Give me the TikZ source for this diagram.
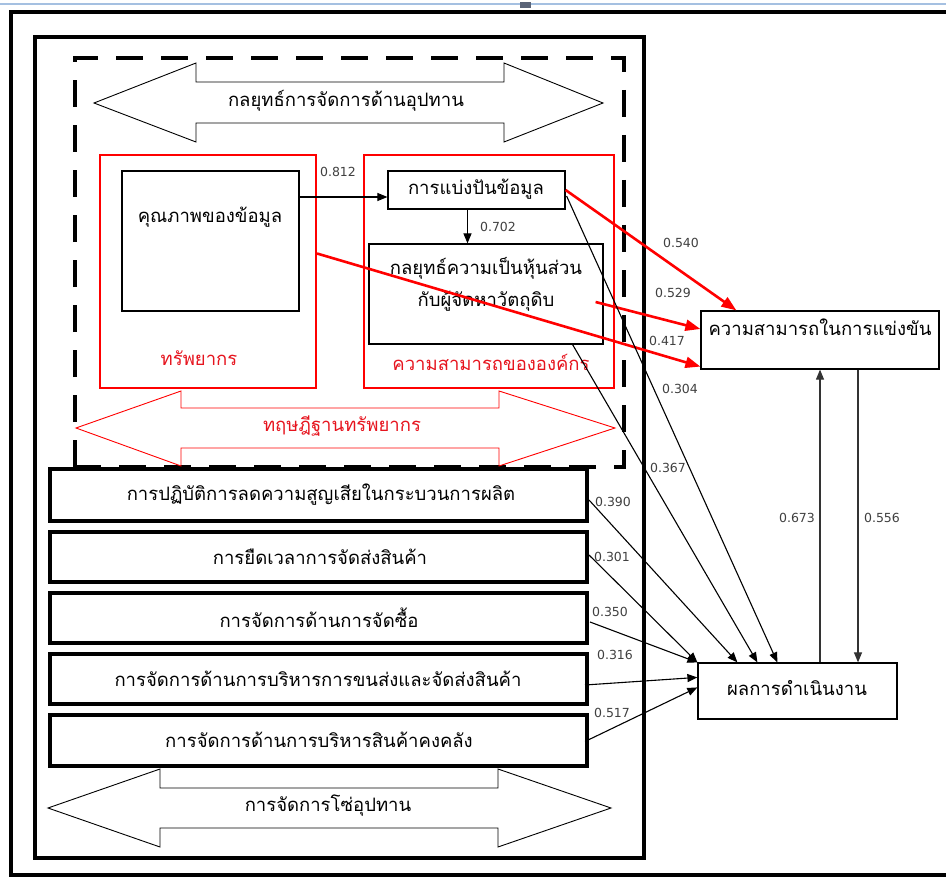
\documentclass[tikz,border=0pt]{standalone}
\usepackage{fontspec}
\newfontfamily\thai[Script=Thai]{Loma}
\newfontfamily\numfont{DejaVu Sans}
\usetikzlibrary{arrows.meta,calc,fit}

\definecolor{edgeblue}{RGB}{165,192,225}
\definecolor{edgemark}{RGB}{90,100,120}
\definecolor{labelred}{RGB}{230,20,30}

\tikzset{
  frame/.style={draw=black, line width=3.2pt},
  dashframe/.style={draw=black, line width=4.5pt, dash pattern=on 27pt off 18pt},
  fatarrow/.style={draw=black, line width=0.9pt, line join=miter},
  redfatarrow/.style={draw=red, line width=0.9pt, line join=miter},
  redbox/.style={draw=red, line width=2pt, inner sep=0pt},
  box/.style={draw=black, line width=1.2pt, inner sep=0pt},
  bar/.style={draw=black, line width=4pt, fill=white, inner sep=0pt},
  thtext/.style={font=\thai\fontsize{18.5}{22}\selectfont, text=black, inner sep=0pt},
  redtext/.style={font=\thai\fontsize{18.5}{22}\selectfont, text=labelred, inner sep=0pt},
  num/.style={font=\numfont\fontsize{12.5}{14}\selectfont, text=black!75, inner sep=0pt},
  arr/.style={draw=black, line width=1.1pt, -{Triangle[length=10pt,width=8pt]}},
  redarr/.style={draw=red, line width=2.6pt, -{Triangle[length=15pt,width=11pt]}},
}

\begin{document}
\begin{tikzpicture}[x=1pt,y=-1pt]
\useasboundingbox (0,0) rectangle (946,880);

% window edge
\draw[line width=2pt, draw=edgeblue] (0,4) -- (946,4);
\fill[edgemark] (520,2) rectangle (531,8);

% frames
\draw[frame] (946,12) -- (11,12) -- (11,875) -- (946,875);
\draw[frame] (35,37) rectangle (644,858);
\draw[dashframe] (75,467) -- (75,58) -- (624,58) -- (624,467) -- cycle;

% supply strategy double arrow
\draw[fatarrow] (94,103) -- (196,63) -- (196,82) -- (504,82) -- (504,63) -- (603,103)
  -- (504,142) -- (504,123) -- (196,123) -- (196,142) -- cycle;
\node[thtext] (strategyLbl) at (346,101) {กลยุทธ์การจัดการด้านอุปทาน};

% resource-based theory groups
\node[redbox, fit={(100,155) (316,388)}] (resource) {};
\node[redbox, fit={(364,155) (614,388)}] (capability) {};
\node[redtext] (resourceLbl) at (199,358) {ทรัพยากร};
\node[redtext] (capabilityLbl) at (491,362) {ความสามารถขององค์กร};

\node[box, fit={(122,171) (299,311)}] (quality) {};
\node[thtext] (qualityLbl) at (210,217) {คุณภาพของข้อมูล};

\node[box, fit={(388,171) (565,209)}] (share) {};
\node[thtext] (shareLbl) at (476,189) {การแบ่งปันข้อมูล};

\node[box, fit={(369,244) (603,344)}] (partner) {};
\node[thtext, align=center] (partnerLbl) at (486,284)
  {กลยุทธ์ความเป็นหุ้นส่วน\\[10pt]กับผู้จัดหาวัตถุดิบ};

% resource-based theory double arrow
\draw[redfatarrow] (76,428) -- (181,391) -- (181,408) -- (499,408) -- (499,391) -- (615,428)
  -- (499,466) -- (499,448) -- (181,448) -- (181,466) -- cycle;
\node[redtext] (theoryLbl) at (342,426) {ทฤษฎีฐานทรัพยากร};

% supply chain practices
\node[bar, fit={(50,469) (587,521)}] (bar1) {};
\node[bar, fit={(50,532) (587,582)}] (bar2) {};
\node[bar, fit={(50,593) (587,643)}] (bar3) {};
\node[bar, fit={(50,654) (587,704)}] (bar4) {};
\node[bar, fit={(50,715) (587,766)}] (bar5) {};
\node[thtext] (bar1Lbl) at (321,495) {การปฏิบัติการลดความสูญเสียในกระบวนการผลิต};
\node[thtext] (bar2Lbl) at (320,557) {การยืดเวลาการจัดส่งสินค้า};
\node[thtext] (bar3Lbl) at (319,618) {การจัดการด้านการจัดซื้อ};
\node[thtext] (bar4Lbl) at (318,679) {การจัดการด้านการบริหารการขนส่งและจัดส่งสินค้า};
\node[thtext] (bar5Lbl) at (319,740) {การจัดการด้านการบริหารสินค้าคงคลัง};

% supply chain management double arrow
\draw[fatarrow] (48,808) -- (160,769) -- (160,788) -- (498,788) -- (498,769) -- (611,808)
  -- (498,847) -- (498,828) -- (160,828) -- (160,847) -- cycle;
\node[thtext] (scmLbl) at (328,806) {การจัดการโซ่อุปทาน};

% outcomes
\node[box, fit={(701,311) (939,369)}] (comp) {};
\node[thtext] (compLbl) at (820,327) {ความสามารถในการแข่งขัน};
\node[box, fit={(698,663) (897,719)}] (perf) {};
\node[thtext] (perfLbl) at (797,688) {ผลการดำเนินงาน};

% attachment points on the boxes
\coordinate (q812) at ($(share.west)+(0,7)$);
\coordinate (s702) at ($(share.south)+(-9,0)$);
\coordinate (p673) at ($(perf.north)+(22.5,0)$);
\coordinate (c556) at ($(comp.south)+(38,0)$);

% paths inside the capability group
\draw[arr] (quality.east |- q812) -- (q812);
\node[num] (n812) at (338,172) {0.812};
\draw[arr] (s702) -- (s702 |- partner.north);
\node[num] (n702) at (498,227) {0.702};

% paths to competitiveness
\draw[redarr] (share.east) -- ($(comp.north west)+(36,0)$);
\draw[redarr] ($(partner.east)+(-8,8)$) -- ($(comp.west)+(0,-11)$);
\draw[redarr] ($(resource.east)+(0,-18)$) -- ($(comp.south west)+(0,-3)$);
\node[num] (n540) at (681,243) {0.540};
\node[num] (n529) at (673,293) {0.529};
\node[num] (n417) at (667,341) {0.417};

% paths to performance
\draw[arr] ($(share.east)+(1,6)$) -- ($(perf.north west)+(80,0)$);
\draw[arr] ($(partner.south east)+(-31,0)$) -- ($(perf.north west)+(60,0)$);
\draw[arr] ($(bar1.east)+(0,5)$) -- ($(perf.north west)+(40,0)$);
\draw[arr] ($(bar2.east)+(0,-2)$) -- (perf.north west);
\draw[arr] ($(bar3.east)+(1,4)$) -- (perf.north west);
\draw[arr] ($(bar4.east)+(-4,6)$) -- ($(perf.north west)+(0,15)$);
\draw[arr] ($(bar5.east)+(-4,1)$) -- ($(perf.north west)+(0,25)$);
\node[num] (n304) at (680,389) {0.304};
\node[num] (n367) at (668,468) {0.367};
\node[num] (n390) at (613,502) {0.390};
\node[num] (n301) at (612,557) {0.301};
\node[num] (n350) at (610,612) {0.350};
\node[num] (n316) at (615,655) {0.316};
\node[num] (n517) at (612,713) {0.517};

% feedback between the outcomes
\draw[arr, draw=black!80] (p673) -- (p673 |- comp.south);
\draw[arr, draw=black!80] (c556) -- (c556 |- perf.north);
\node[num] (n673) at (797,518) {0.673};
\node[num] (n556) at (882,518) {0.556};
\end{tikzpicture}
\end{document}
